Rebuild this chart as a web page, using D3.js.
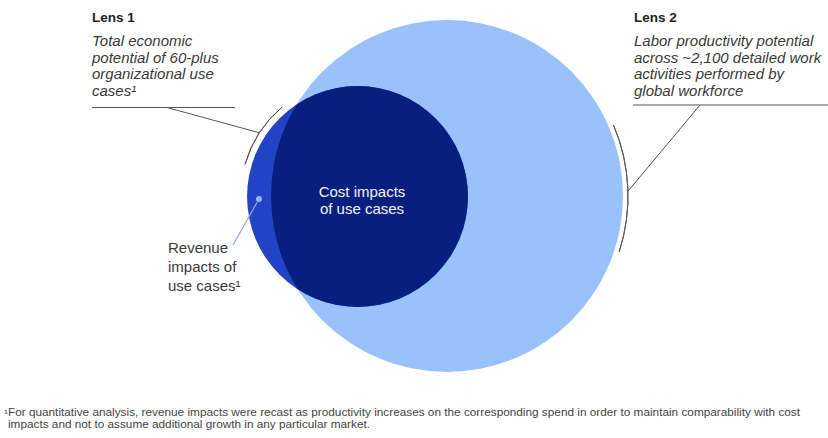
<!DOCTYPE html>
<html>
<head>
<meta charset="utf-8">
<script src="https://cdn.jsdelivr.net/npm/d3@7"></script>
<style>
  html, body { margin: 0; padding: 0; background: #fff; }
  svg { display: block; font-family: "Liberation Sans", Arial, sans-serif; }
</style>
</head>
<body>
<svg id="chart" width="828" height="438"></svg>
<script>
// Two lenses on AI's economic potential, shown as overlapping circles
const lensIds = ["lens1", "lens2"];
const lensTitles = ["Lens 1", "Lens 2"];
const lensDescriptions = [
  ["Total economic", "potential of 60-plus", "organizational use", "cases\u00B9"],
  ["Labor productivity potential", "across ~2,100 detailed work", "activities performed by", "global workforce"]
];
// Relative size (area) of each lens
const lensValues = [1, 2.54];
const segmentLabels = [
  ["Cost impacts", "of use cases"],
  ["Revenue", "impacts of", "use cases\u00B9"]
];
const footnoteLines = [
  "\u00B9For quantitative analysis, revenue impacts were recast as productivity increases on the corresponding spend in order to maintain comparability with cost",
  "impacts and not to assume additional growth in any particular market."
];

const svg = d3.select("#chart");
const colors = { light: "#99c1fa", navy: "#07207f", revenue: "#2243c6", text: "#3a3a3a", rule: "#555" };

const r = d3.scaleSqrt().domain([0, d3.max(lensValues)]).range([0, 176]);
const big = { x: 447, y: 196, r: r(lensValues[1]) };
const small = { x: 357.5, y: 196.5, r: r(lensValues[0]) };

// Lens 2 circle
svg.append("circle").attr("cx", big.x).attr("cy", big.y).attr("r", big.r).attr("fill", colors.light);

// Lens 1: revenue crescent lies outside Lens 2, cost impacts inside
svg.append("circle").attr("cx", small.x).attr("cy", small.y).attr("r", small.r).attr("fill", colors.revenue);
svg.append("clipPath").attr("id", "bigClip")
  .append("circle").attr("cx", big.x).attr("cy", big.y).attr("r", big.r);
svg.append("circle").attr("cx", small.x).attr("cy", small.y).attr("r", small.r)
  .attr("fill", colors.navy).attr("clip-path", "url(#bigClip)");

// Brackets around each lens
const deg = Math.PI / 180;
function bracket(c, radius, a0, a1) {
  svg.append("path")
    .attr("transform", `translate(${c.x},${c.y})`)
    .attr("d", d3.arc()({ innerRadius: radius, outerRadius: radius, startAngle: a0 * deg, endAngle: a1 * deg }))
    .attr("fill", "none").attr("stroke", colors.rule).attr("stroke-width", 1);
}
function arcPoint(c, radius, a) {
  return [c.x + radius * Math.sin(a * deg), c.y - radius * Math.cos(a * deg)];
}
bracket(small, 117, -74, -40);
bracket(big, 181, 67, 108);

const line = d3.line();
const p1 = arcPoint(small, 117, -57);
svg.append("path").attr("d", line([[92, 107.5], [235, 107.5]])).attr("stroke", colors.rule).attr("fill", "none");
svg.append("path").attr("d", line([[167, 107.5], p1])).attr("stroke", colors.rule).attr("fill", "none");
const p2 = arcPoint(big, 181, 88.5);
svg.append("path").attr("d", line([[633, 105], [828, 105]])).attr("stroke", colors.rule).attr("fill", "none");
svg.append("path").attr("d", line([[700, 105], p2])).attr("stroke", colors.rule).attr("fill", "none");

// Lens titles and descriptions
const lensX = [92, 634];
lensIds.forEach((id, i) => {
  const g = svg.append("g").attr("class", id).attr("fill", colors.text);
  g.append("text").attr("x", lensX[i]).attr("y", 22).attr("font-weight", "bold")
    .attr("font-size", 13.5).attr("fill", "#222").text(lensTitles[i]);
  g.selectAll("text.desc").data(lensDescriptions[i]).join("text")
    .attr("class", "desc")
    .attr("x", lensX[i]).attr("y", (d, j) => 46 + j * 16.5)
    .attr("font-style", "italic").attr("font-size", 15)
    .text(d => d);
});

// Segment labels
svg.append("g").selectAll("text").data(segmentLabels[0]).join("text")
  .attr("x", 362).attr("y", (d, j) => 197 + j * 17)
  .attr("text-anchor", "middle").attr("fill", "#f2f2f2").attr("font-size", 15)
  .text(d => d);
svg.append("g").selectAll("text").data(segmentLabels[1]).join("text")
  .attr("x", 168).attr("y", (d, j) => 253 + j * 19)
  .attr("fill", colors.text).attr("font-size", 15)
  .text(d => d);

// Pointer from revenue label into the crescent
svg.append("path").attr("d", line([[233, 245], [259, 199]])).attr("stroke", "#8fa9d8").attr("stroke-width", 1.2).attr("fill", "none");
svg.append("circle").attr("cx", 259).attr("cy", 199).attr("r", 3).attr("fill", "#8db4f5");

// Footnote
svg.append("text").attr("x", 4).attr("y", 416).attr("font-size", 10).attr("fill", "#444")
  .attr("textLength", 796).attr("lengthAdjust", "spacingAndGlyphs").text(footnoteLines[0]);
svg.append("text").attr("x", 8).attr("y", 428).attr("font-size", 10).attr("fill", "#444")
  .attr("textLength", 362).attr("lengthAdjust", "spacingAndGlyphs").text(footnoteLines[1]);
</script>
</body>
</html>
